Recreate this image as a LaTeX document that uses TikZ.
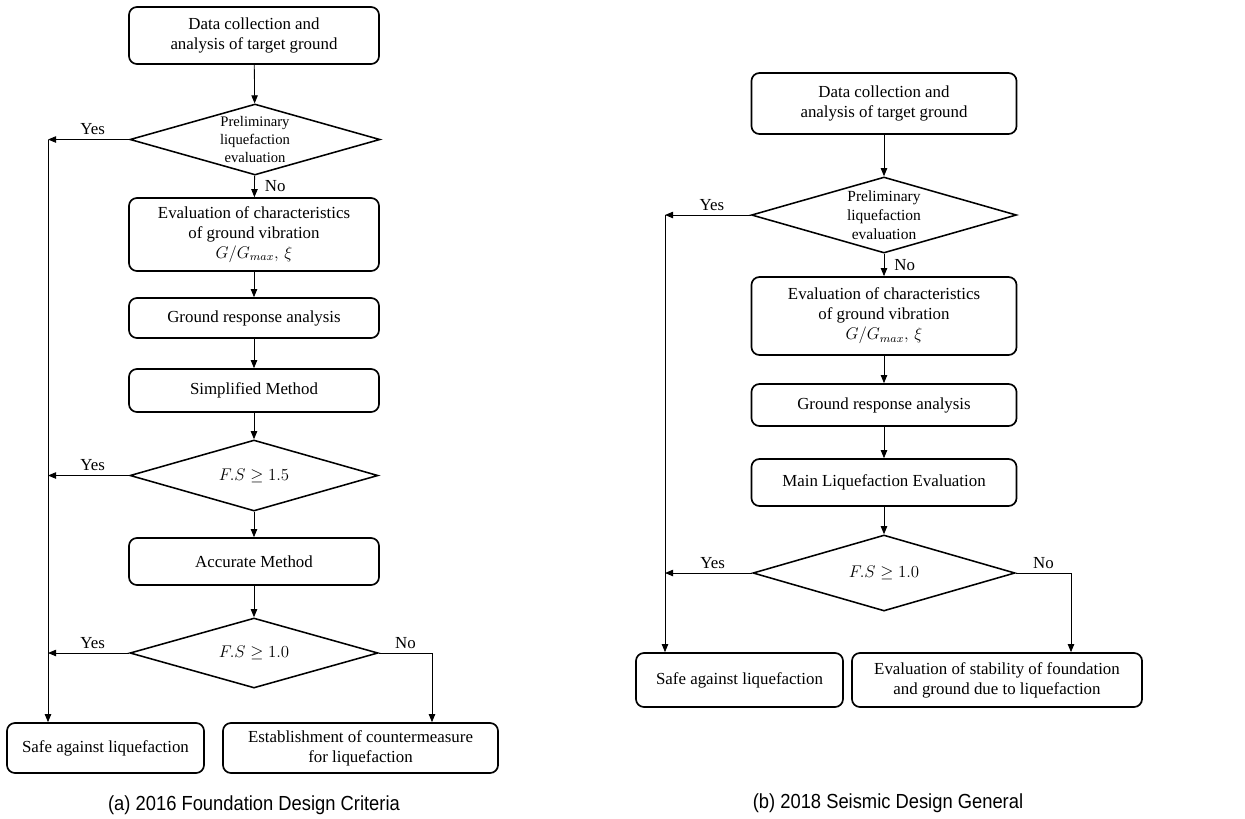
\documentclass[tikz,border=0pt]{standalone}
\usepackage{fontspec}
\setmainfont{Liberation Serif}
\newfontfamily\capfont[FakeStretch=0.9]{Liberation Sans}
\usetikzlibrary{shapes.geometric,arrows.meta}

\begin{document}
\begin{tikzpicture}[
    % one unit = one pixel of the original figure
    x=0.025cm, y=-0.025cm,
    >={Triangle[length=0.2cm,width=0.16cm]},
    stepbox/.style={
        draw,
        line width=1.2pt,
        rounded corners=0.2cm,
        align=center,
        inner sep=0pt,
        font=\fontsize{12}{14.2}\selectfont
    },
    decision/.style={
        draw,
        diamond,
        aspect=3.5,
        line width=1.1pt,
        inner sep=0pt,
        align=center,
        font=\fontsize{12}{14.2}\selectfont
    },
    smalltext/.style={font=\fontsize{10.4}{12.8}\selectfont},
    flow/.style={->, line width=0.6pt},
    answer/.style={font=\fontsize{12}{14}\selectfont, inner sep=0.1cm},
    caption/.style={font=\capfont\fontsize{14.5}{17}\selectfont}
]
    \useasboundingbox (0,0) rectangle (1245,818);

    % --- (a) 2016 Foundation Design Criteria ---
    \node(a1)[stepbox, minimum width=6.25cm, minimum height=1.425cm] at (254,35.5)
        {Data collection and\\analysis of target ground};
    \node(a2)[decision, smalltext, minimum width=6.25cm, minimum height=1.775cm] at (255,139.5)
        {Preliminary\\liquefaction\\evaluation};
    \node(a3)[stepbox, minimum width=6.25cm, minimum height=1.825cm] at (254,234.5)
        {Evaluation of characteristics\\of ground vibration\\$G/G_{max},\,\xi$};
    \node(a4)[stepbox, minimum width=6.25cm, minimum height=1cm] at (254,318)
        {Ground response analysis};
    \node(a5)[stepbox, minimum width=6.25cm, minimum height=1.075cm] at (254,390.5)
        {Simplified Method};
    \node(a6)[decision, minimum width=6.2cm, minimum height=1.775cm] at (254,475.5)
        {$F.S \geq 1.5$};
    \node(a7)[stepbox, minimum width=6.25cm, minimum height=1.175cm] at (254,561.5)
        {Accurate Method};
    \node(a8)[decision, minimum width=6.2cm, minimum height=1.75cm] at (254,653)
        {$F.S \geq 1.0$};
    \node(asafe)[stepbox, minimum width=4.925cm, minimum height=1.25cm] at (105.5,748)
        {Safe against liquefaction};
    \node(acount)[stepbox, minimum width=6.875cm, minimum height=1.25cm] at (360.5,748)
        {Establishment of countermeasure\\for liquefaction};
    \coordinate(aleft) at (48,139.5);
    \coordinate(aright) at (432,653);

    \draw[flow] (a1) -- (a2);
    \draw[flow] (a2) -- node[answer, right=0.15cm] (noa2) {No} (a3);
    \foreach \u/\v in {a3/a4, a4/a5, a5/a6, a6/a7, a7/a8}
        \draw[flow] (\u) -- (\v);

    % Yes branches go to the left rail
    \draw[flow] (a2.west) -- node[answer, above, xshift=0.1cm] (yesa2) {Yes} (aleft);
    \draw[flow] (a6.west) -- node[answer, above, xshift=0.1cm] (yesa6) {Yes} (a6.west -| aleft);
    \draw[flow] (a8.west) -- node[answer, above, xshift=0.1cm] (yesa8) {Yes} (a8.west -| aleft);
    \draw[flow] (aleft) -- (aleft |- asafe.north);
    \draw[flow] (a8.east) -- node[answer, above] (noa8) {No} (aright) -- (aright |- acount.north);

    \node(capa)[caption] at (254,805) {(a) 2016 Foundation Design Criteria};

    % --- (b) 2018 Seismic Design General ---
    \node(b1)[stepbox, minimum width=6.625cm, minimum height=1.525cm] at (884,103.5)
        {Data collection and\\analysis of target ground};
    \node(b2)[decision, font=\fontsize{11}{13.5}\selectfont, minimum width=6.625cm, minimum height=1.9cm] at (884,215)
        {Preliminary\\liquefaction\\evaluation};
    \node(b3)[stepbox, minimum width=6.625cm, minimum height=1.95cm] at (884,316)
        {Evaluation of characteristics\\of ground vibration\\$G/G_{max},\,\xi$};
    \node(b4)[stepbox, minimum width=6.625cm, minimum height=1.05cm] at (884,405)
        {Ground response analysis};
    \node(b5)[stepbox, minimum width=6.625cm, minimum height=1.175cm] at (884,482.5)
        {Main Liquefaction Evaluation};
    \node(b6)[decision, minimum width=6.55cm, minimum height=1.9cm] at (884,573)
        {$F.S \geq 1.0$};
    \node(bsafe)[stepbox, minimum width=5.175cm, minimum height=1.35cm] at (739.5,680)
        {Safe against liquefaction};
    \node(bstab)[stepbox, minimum width=7.25cm, minimum height=1.35cm] at (997,680)
        {Evaluation of stability of foundation\\and ground due to liquefaction};
    \coordinate(bleft) at (665,215);
    \coordinate(bright) at (1071,573);

    \draw[flow] (b1) -- (b2);
    \draw[flow] (b2) -- node[answer, right=0.15cm] (nob2) {No} (b3);
    \foreach \u/\v in {b3/b4, b4/b5, b5/b6}
        \draw[flow] (\u) -- (\v);

    \draw[flow] (b2.west) -- node[answer, above, xshift=0.1cm] (yesb2) {Yes} (bleft);
    \draw[flow] (b6.west) -- node[answer, above, xshift=0.1cm] (yesb6) {Yes} (b6.west -| bleft);
    \draw[flow] (bleft) -- (bleft |- bsafe.north);
    \draw[flow] (b6.east) -- node[answer, above] (nob6) {No} (bright) -- (bright |- bstab.north);

    \node(capb)[caption] at (888,803) {(b) 2018 Seismic Design General};
\end{tikzpicture}
\end{document}
